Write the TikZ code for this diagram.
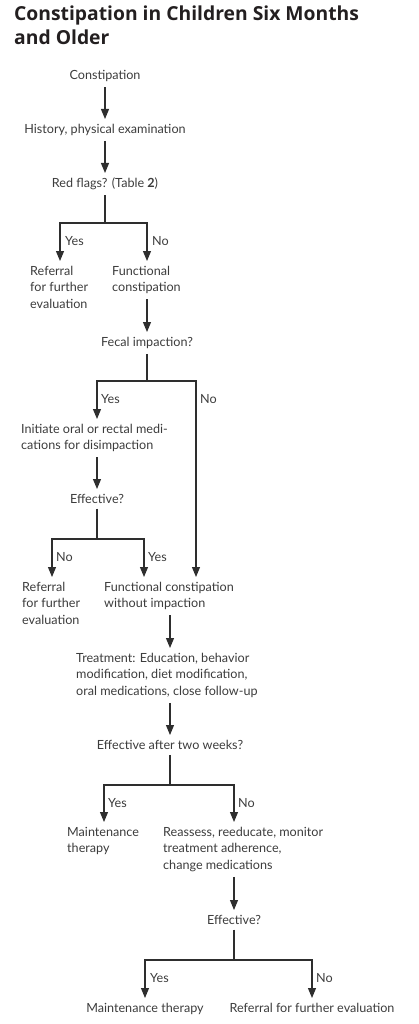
\documentclass[tikz,border=0pt]{standalone}
\usepackage{fontspec}
\setmainfont{Lato}
\newfontfamily\titlefont{Open Sans}
\usetikzlibrary{arrows.meta,calc}
\definecolor{txtgray}{HTML}{3C3C3C}
\definecolor{linegray}{HTML}{2E2E2E}
\definecolor{titleblack}{HTML}{231F20}
\tikzset{
  txt/.style={font=\fontsize{12.6}{16.5}\selectfont, text=txtgray, inner xsep=0pt, inner ysep=5pt, align=left},
  ttl/.style={font=\titlefont\bfseries\fontsize{19.3}{23.5}\selectfont, text=titleblack, inner sep=0pt, anchor=base west},
  lbl/.style={font=\fontsize{12.6}{16.5}\selectfont, text=txtgray, inner sep=0pt, anchor=base west},
  ln/.style={draw=linegray, line width=1.1pt},
  arr/.style={ln, -{Triangle[length=10pt,width=8pt]}}
}
\begin{document}
\begin{tikzpicture}[x=1pt,y=-1pt]
\useasboundingbox (0,0) rectangle (419,1024);
% title
\node[ttl] (t1) at (14,21) {Constipation in Children Six Months};
\node[ttl] (t2) at (14,44.3) {and Older};
% nodes
\node[txt, anchor=base] (con) at (105,80) {Constipation};
\node[txt, anchor=north] (hist) at (105,119) {History, physical examination};
\node[txt, anchor=north] (red) at (105,173) {Red flags? (Table \textbf{2})};
\node[txt, anchor=north west] (ref1) at (30,261) {Referral\\for further\\evaluation};
\node[txt, anchor=north west] (fc1) at (112,261) {Functional\\constipation};
\node[txt, anchor=north] (fi) at (147,332) {Fecal impaction?};
\node[txt, anchor=north west] (init) at (21,419) {Initiate oral or rectal medi-\\cations for disimpaction};
\node[txt, anchor=north] (eff1) at (97,489) {Effective?};
\node[txt, anchor=north west] (ref2) at (22,577) {Referral\\for further\\evaluation};
\node[txt, anchor=north west] (fcwi) at (104,577) {Functional constipation\\without impaction};
\node[txt, anchor=north west] (treat) at (76,648) {Treatment: Education, behavior\\modification, diet modification,\\oral medications, close follow-up};
\node[txt, anchor=north] (eff2) at (170,735) {Effective after two weeks?};
\node[txt, anchor=north west] (maint1) at (67,822) {Maintenance\\therapy};
\node[txt, anchor=north west] (reas) at (163,822) {Reassess, reeducate, monitor\\treatment adherence,\\change medications};
\node[txt, anchor=north] (eff3) at (234,910) {Effective?};
\node[txt, anchor=north] (maint2) at (145,998) {Maintenance therapy};
\node[txt, anchor=north] (ref3) at (312,998) {Referral for further evaluation};
% branch coordinates
\coordinate (redB) at (105,223); \coordinate (redL) at (60,223); \coordinate (redR) at (147,223);
\coordinate (fiB) at (147,381); \coordinate (fiL) at (97,381); \coordinate (fiR) at (196,381);
\coordinate (e1B) at (97,539); \coordinate (e1L) at (52,539); \coordinate (e1R) at (144,539);
\coordinate (e2B) at (170,785); \coordinate (e2L) at (104,785); \coordinate (e2R) at (234,785);
\coordinate (e3B) at (234,960); \coordinate (e3L) at (145,960); \coordinate (e3R) at (312,960);
% connectors
\draw[arr] (con) -- (hist);
\draw[arr] (hist) -- (red);
\draw[ln] (red.south) -- (redB);
\draw[arr] (redB) -- (redL) -- (redL |- ref1.north);
\draw[arr] (redB) -- (redR) -- (redR |- fc1.north);
\draw[arr] (fc1.south -| fi.north) -- (fi.north);
\draw[ln] (fi.south) -- (fiB);
\draw[arr] (fiB) -- (fiL) -- (fiL |- init.north);
\draw[arr] (fiB) -- (fiR) -- (fiR |- fcwi.north);
\draw[arr] (init.south -| eff1.north) -- (eff1.north);
\draw[ln] (eff1.south) -- (e1B);
\draw[arr] (e1B) -- (e1L) -- (e1L |- ref2.north);
\draw[arr] (e1B) -- (e1R) -- (e1R |- fcwi.north);
\draw[arr] (fcwi.south -| eff2.north) -- (treat.north -| eff2.north);
\draw[arr] (treat.south -| eff2.north) -- (eff2.north);
\draw[ln] (eff2.south) -- (e2B);
\draw[arr] (e2B) -- (e2L) -- (e2L |- maint1.north);
\draw[arr] (e2B) -- (e2R) -- (e2R |- reas.north);
\draw[arr] (reas.south -| eff3.north) -- (eff3.north);
\draw[ln] (eff3.south) -- (e3B);
\draw[arr] (e3B) -- (e3L) -- (maint2.north);
\draw[arr] (e3B) -- (e3R) -- (ref3.north);
% labels
\node[lbl] (l1) at (65,245) {Yes};
\node[lbl] (l2) at (152,245) {No};
\node[lbl] (l3) at (101,403) {Yes};
\node[lbl] (l4) at (200,403) {No};
\node[lbl] (l5) at (56,561.5) {No};
\node[lbl] (l6) at (148,561.5) {Yes};
\node[lbl] (l7) at (108,807) {Yes};
\node[lbl] (l8) at (238,807) {No};
\node[lbl] (l9) at (150,982) {Yes};
\node[lbl] (l10) at (316,982) {No};
\end{tikzpicture}
\end{document}
